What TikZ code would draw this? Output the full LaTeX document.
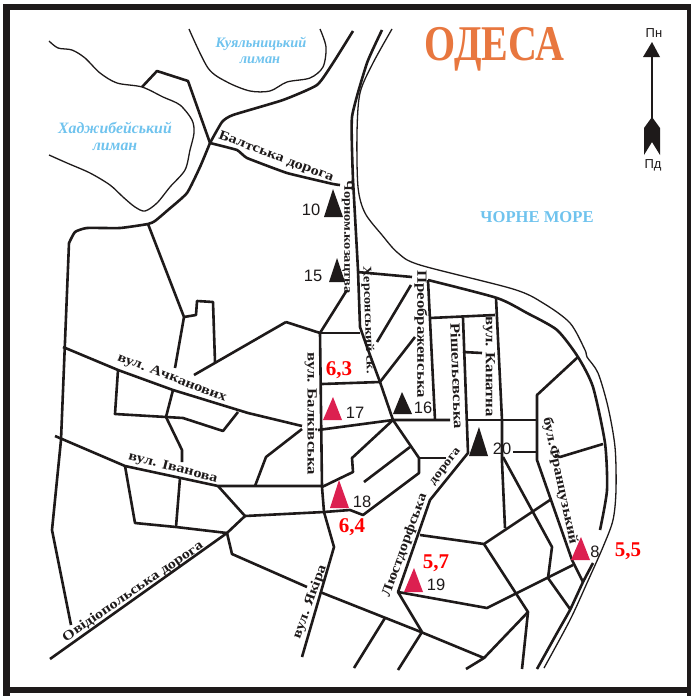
\documentclass[tikz,border=0pt]{standalone}
\usepackage{fontspec}
\usepackage{graphicx}
\setmainfont{Liberation Serif}
\newfontfamily\sansf{Liberation Sans}
\newfontfamily\streetf[FakeStretch=1.2]{Liberation Serif Bold}
\usetikzlibrary{calc}
\definecolor{ink}{HTML}{1E1A1A}
\definecolor{lake}{HTML}{6FC3EE}
\definecolor{titleor}{HTML}{E8773F}
\definecolor{crim}{HTML}{DC2050}
\tikzset{
  road/.style={draw=ink,line width=2.6pt,line join=round,line cap=butt},
  shore/.style={draw=ink,line width=1.3pt,line join=round},
  street/.style={font=\streetf\fontsize{13.5}{13.5}\selectfont,text=ink,inner sep=0pt},
  street small/.style={font=\streetf\fontsize{12}{12}\selectfont,text=ink,inner sep=0pt},
  street big/.style={font=\streetf\fontsize{14}{14}\selectfont,text=ink,inner sep=0pt},
  water/.style={font=\bfseries\itshape\fontsize{15.8}{15.8}\selectfont,text=lake,inner sep=0pt},
  water small/.style={font=\bfseries\itshape\fontsize{14.4}{14.4}\selectfont,text=lake,inner sep=0pt},
  num/.style={font=\sansf\fontsize{16.5}{16.5}\selectfont,text=ink,inner sep=0pt},
  val/.style={font=\bfseries\fontsize{21}{21}\selectfont,text=red,inner sep=0pt},
  blk/.style={fill=ink,draw=none},
  redtri/.style={fill=crim,draw=none},
}
\begin{document}
\begin{tikzpicture}[x=1pt,y=-1pt]
\useasboundingbox (0,0) rectangle (691,696);
\fill[white] (0,0) rectangle (691,696);
% frame
\fill[ink] (3.3,4) rectangle (9.5,696);
\fill[ink] (3.3,4) rectangle (691,9.5);
\fill[ink] (687,4) rectangle (691,696);
\fill[ink] (3.3,687) rectangle (691,693);
% shores
\draw[shore] plot[smooth,tension=.5] coordinates {(49,41)(58,48)(72,50)(85,58)(100,73)(117,83)(142,87)(163,97)(180,105)(192,120)(194,133)(190,150)(185,170)(170,187)(157,203)(145,211)(135,207)(123,197)(110,185)(90,173)(67,163)(49,155)};
\draw[shore] plot[smooth,tension=.5] coordinates {(189,29)(208,68)(227,82)(250,91)(270,91)(287,82)(310,78)(323,67)(326,47)(320,29)};
\draw[shore] plot[smooth,tension=.5] coordinates {(392,29)(373,63)(360,93)(357,133)(358,187)(365,213)(382,235)(398,253)(420,265)(513,289)(543,303)(570,323)(585,350)(587,357)(598,373)(608,407)(615,447)(616,490)(613,520)(603,547)(587,583)(570,620)(544,668)};
% roads
\draw[road] plot[smooth,tension=.3] coordinates {(210,143)(222,122)(233,115)(283,100)(317,85)(333,63)(353,31)};
\draw[road] plot[smooth,tension=.3] coordinates {(210,143)(200,167)(187,193)(168,210)(155,221)(148,224)(120,228)(87,228)(75,232)(69,243)} -- (61,440) -- (52,530) -- (71,625);
\draw[road] (142,87) -- (157,71) -- (188,81) -- (210,143);
\draw[road] plot[smooth,tension=.2] coordinates {(210,143)(237,150)(247,158)(287,173)(333,184)(340,185)};
\draw[road] (148,224) -- (184,317) -- (196,315) -- (197,301) -- (213,302) -- (215,362);
\draw[road] (184,317) -- (175,368);
\draw[road] (286,322) -- (194,375);
\draw[road] (286,322) -- (320,333);
\draw[road] (347,290) -- (320,333) -- (322,487) -- (324,512) -- (334,547) -- (302,657);
\draw[road] (320,333) -- (360,333);
\draw[road] plot[smooth,tension=.3] coordinates {(382,30)(367,63)(352,117)(353,180)} -- (358,270) -- (360,327) -- (367,347) -- (380,382) -- (393,420) -- (419,458) -- (419,473) -- (363,515) -- (350,510) -- (324,512) -- (245,516);
\draw[road] (357,272) -- (412,277);
\draw[road] (411,285) -- (377,342);
\draw[road] (415,337) -- (380,382);
\draw[road] (322,384) -- (380,382);
\draw[road] (318,430) -- (393,420) -- (450,420);
\draw[road] (467,420) -- (537,420);
\draw[road] (63,347) -- (118,370) -- (173,390) -- (248,413) -- (302,426);
\draw[road] (302,429) -- (266,457) -- (255,486);
\draw[road] (118,370) -- (115,414) -- (166,417) -- (183,418) -- (223,431) -- (238,412);
\draw[road] (173,390) -- (166,417) -- (182,450) -- (182,462);
\draw[road] (55,436) -- (125,466) -- (218,486) -- (322,486);
\draw[road] (125,466) -- (135,523) -- (176,527) -- (227,533);
\draw[road] (180,478) -- (176,527);
\draw[road] (218,486) -- (245,516) -- (227,533) -- (50,659);
\draw[road] (227,533) -- (232,554) -- (307,587);
\draw[road] (320,592) -- (421,632) -- (484,658) -- (466,669);
\draw[road] (385,618) -- (354,668);
\draw[road] (422,632) -- (398,670);
\draw[road] (422,632) -- (398,592) -- (430,500) -- (468,453) -- (463,318);
\draw[road] (430,318) -- (495,315);
\draw[road] (496,298) -- (502,420) -- (502,462) -- (505,528);
\draw[road] (428,280) -- (435,420);
\draw[road] plot[smooth,tension=.4] coordinates {(428,280)(497,298)(527,313)(557,330)(578,357)(593,387)(605,443)(607,490)(600,530)};
\draw[road] plot[smooth,tension=.2] coordinates {(593,563)(583,582)(570,610)(557,633)(537,669)};
\draw[road] (463,352) -- (482,353);
\draw[road] (419,458) -- (446,458);
\draw[road] (393,420) -- (352,458) -- (353,472) -- (322,487);
\draw[road] (410,447) -- (364,482);
\draw[road] (513,452) -- (537,452);
\draw[road] (578,357) -- (537,395) -- (537,460) -- (572,560) -- (583,582);
\draw[road] (603,444) -- (560,457) -- (555,455);
\draw[road] (503,457) -- (552,547) -- (548,578) -- (570,609);
\draw[road] (420,535) -- (484,544) -- (550,500);
\draw[road] (484,544) -- (528,612) -- (522,669);
\draw[road] (528,612) -- (484,658);
\draw[road] (398,592) -- (487,608) -- (573,565);
% triangles
\fill[blk] (324,217) -- (343,217) -- (333,189) -- cycle;
\fill[blk] (329,282) -- (345,282) -- (337,258) -- cycle;
\fill[blk] (393,414) -- (412,414) -- (402,392) -- cycle;
\fill[blk] (469,456) -- (488,456) -- (479,427) -- cycle;
\fill[redtri] (323,420) -- (342,420) -- (333,397) -- cycle;
\fill[redtri] (330,508) -- (349,508) -- (339,480) -- cycle;
\fill[redtri] (404,592) -- (423,592) -- (414,568) -- cycle;
\fill[redtri] (571,560) -- (590,560) -- (581,537) -- cycle;
% compass
\draw[draw=ink,line width=2.6pt] (652,55) -- (652,122);
\fill[ink] (643,57) -- (660,57) -- (652,42) -- cycle;
\fill[ink] (652,117) -- (660,128) -- (660,155) -- (652,142) -- (644,155) -- (644,128) -- cycle;
\node[font=\sansf\fontsize{13}{13}\selectfont,text=ink,inner sep=0pt] (north) at (654,33) {Пн};
\node[font=\sansf\fontsize{13}{13}\selectfont,text=ink,inner sep=0pt] (south) at (653,165) {Пд};
% title
\node[text=titleor,inner sep=0pt,font=\bfseries\fontsize{50}{50}\selectfont] (title) at (494.5,49) {\scalebox{.8}[1]{ОДЕСА}};
% water
\node[water] (w1) at (115,128) {Хаджибейський};
\node[water] (w2) at (115,147) {лиман};
\node[water small] (w3) at (261,44) {Куяльницький};
\node[water small] (w4) at (260,60) {лиман};
\node[inner sep=0pt,text=lake,font=\bfseries\fontsize{16.6}{16.6}\selectfont] (w5) at (537,217) {ЧОРНЕ МОРЕ};
% streets
\node[street,rotate=-20.8] (s1) at (276,157) {Балтська дорога};
\node[street small,rotate=-90] (s2) at (347,237) {Чорном.козацтва};
\node[street small,rotate=-88] (s3) at (368,320) {Херсонський ск.};
\node[street big,rotate=-90] (s4) at (421,334) {Преображенська};
\node[street big,rotate=-88] (s5) at (457,376) {Рішельєвська};
\node[street big,rotate=-90] (s6) at (489,367) {вул. Канатна};
\node[street,rotate=-78] (s7) at (560,481) {бул.Французький};
\node[street,rotate=70] (s8) at (405,545) {Люстдорфська};
\node[street small,rotate=52] (s9) at (446,467) {дорога};
\node[street big,rotate=-90] (s10) at (311,414) {вул. Балківська};
\node[street,rotate=-21] (s11) at (172,378) {вул. Ачканових};
\node[street,rotate=-14.5] (s12) at (173,468) {вул. Іванова};
\node[street,rotate=34.5] (s13) at (133,592) {Овідіопольська дорога};
\node[street,rotate=70] (s14) at (310,602) {вул. Якіра};
% numbers
\node[num] (n10) at (311,210) {10};
\node[num] (n15) at (313,276) {15};
\node[num] (n17) at (355,413) {17};
\node[num] (n16) at (423,408) {16};
\node[num] (n20) at (502,449) {20};
\node[num] (n18) at (362,502) {18};
\node[num] (n19) at (436,585) {19};
\node[num] (n8) at (595,552) {8};
% values
\node[val] (v1) at (339,370) {6,3};
\node[val] (v2) at (352,527) {6,4};
\node[val] (v3) at (436,563) {5,7};
\node[val] (v4) at (628,551) {5,5};
\end{tikzpicture}
\end{document}
